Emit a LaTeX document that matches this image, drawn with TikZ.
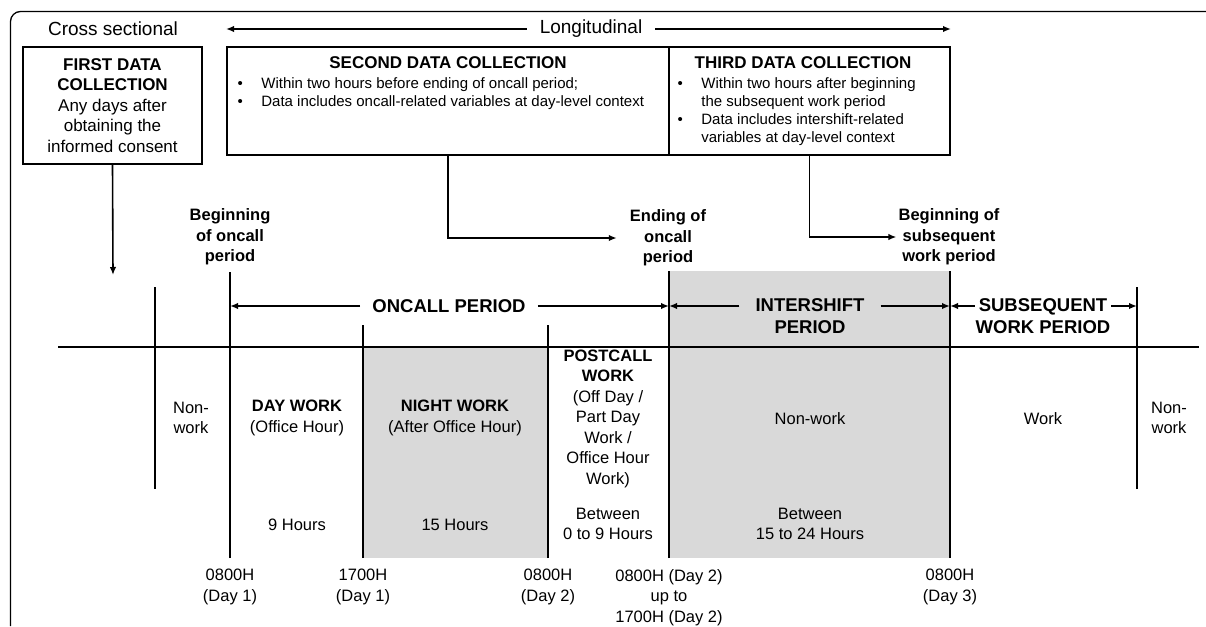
\documentclass[tikz,border=0pt]{standalone}
\usepackage{fontspec}
\setmainfont{Liberation Sans}
\usetikzlibrary{arrows.meta,positioning}
\definecolor{bandgray}{HTML}{D9D9D9}
\tikzset{
  box/.style={draw,line width=2pt,inner sep=0pt,align=center},
  txt/.style={font=\fontsize{16.5}{20.5}\selectfont,align=center,inner sep=2pt},
  lbl/.style={font=\bfseries\fontsize{16.5}{20.5}\selectfont,align=center,inner sep=2pt},
  per/.style={font=\bfseries\fontsize{18.5}{22}\selectfont,align=center,inner sep=2pt},
  blist/.style={font=\fontsize{15}{18}\selectfont,inner sep=0pt,anchor=north west},
  arr/.style={-{Latex[length=8pt,width=6.5pt]},line width=1.6pt},
  tick/.style={line width=1.4pt}
}
\begin{document}
\begin{tikzpicture}[x=1pt,y=-1pt]
  \useasboundingbox (0,0) rectangle (1206,626);
  % 外框
  \draw[line width=1.3pt,rounded corners=10pt] (10.5,626) -- (10.5,11.5) -- (1206,11.5);
  % 三次数据收集
  \node[box,minimum width=179pt,minimum height=117pt,font=\fontsize{17}{20.5}\selectfont] (first) at (112.5,105.5)
    {\textbf{FIRST DATA}\\\textbf{COLLECTION}\\Any days after\\obtaining the\\informed consent};
  \node[box,minimum width=442pt,minimum height=108pt] (second) at (448,101) {};
  \node[box,minimum width=281pt,minimum height=108pt] (third) at (809.5,101) {};
  \node[lbl,font=\bfseries\fontsize{17}{20}\selectfont] (secondttl) at ([yshift=-17pt]second.north) {SECOND DATA COLLECTION};
  \node[lbl,font=\bfseries\fontsize{17}{20}\selectfont] (thirdttl) at ([xshift=-6.5pt,yshift=-17pt]third.north) {THIRD DATA COLLECTION};
  \node[blist] (secondlist) at ([xshift=11.4pt,yshift=-29.5pt]second.north west)
    {\begin{tabular}{@{}c@{\hspace{18.5pt}}l@{}}
      \textbullet & Within two hours before ending of oncall period;\\
      \textbullet & Data includes oncall-related variables at day-level context
    \end{tabular}};
  \node[blist] (thirdlist) at ([xshift=9.4pt,yshift=-29.5pt]third.north west)
    {\begin{tabular}{@{}c@{\hspace{18.5pt}}l@{}}
      \textbullet & Within two hours after beginning\\
                  & the subsequent work period\\
      \textbullet & Data includes intershift-related\\
                  & variables at day-level context
    \end{tabular}};
  % 顶部标题
  \node[txt,font=\fontsize{19}{22}\selectfont] (cross) at (113,29) {Cross sectional};
  \node[txt,font=\fontsize{19}{22}\selectfont,inner xsep=13pt] (longi) at (591,29) {Longitudinal};
  \draw[arr] (longi.west) -- (longi.west -| second.west);
  \draw[arr] (longi.east) -- (longi.east -| third.east);
  % 阴影区
  \fill[bandgray] (363,347) rectangle (548,558);
  \fill[bandgray] (669,271) rectangle (950,558);
  % 时间轴
  \coordinate (bA) at (230,558);
  \coordinate (bB) at (363,558);
  \coordinate (bC) at (548,558);
  \coordinate (bD) at (669,558);
  \coordinate (bE) at (950,558);
  \coordinate (bF) at (1137,489);
  \draw[tick] (58,347) -- (1199,347);
  \draw[tick] (155,287) -- (155,489);
  \draw[tick] (bA) -- (230,272);
  \draw[tick] (bB) -- (363,325);
  \draw[tick] (bC) -- (548,325);
  \draw[tick] (bD) -- (669,271);
  \draw[tick] (bE) -- (950,271);
  \draw[tick] (bF) -- (1137,287);
  % 时间点标签与连线
  \node[lbl] (beginlbl) at (230,237) {Beginning\\of oncall\\period};
  \node[lbl] (endlbl) at (668,238) {Ending of\\oncall\\period};
  \node[lbl] (sublbl) at (949,237) {Beginning of\\subsequent\\work period};
  \coordinate (firstend) at (113,275);
  \draw[arr] (first.south) -- (firstend);
  \draw[arr,shorten >=11pt] (second.south) |- (endlbl.west);
  \draw[arr] (third.south) |- (sublbl.west);
  % 时段箭头
  \node[per,inner xsep=12pt] (oncall) at (449,306) {ONCALL PERIOD};
  \draw[arr] (oncall.west) -- (oncall.west -| bA);
  \draw[arr] (oncall.east) -- (oncall.east -| bD);
  \node[per,anchor=north,inner xsep=16pt] (inter) at (810,296.5) {INTERSHIFT\\PERIOD};
  \draw[arr] (inter.west |- oncall) -- (bD |- oncall);
  \draw[arr] (inter.east |- oncall) -- (bE |- oncall);
  \node[per,anchor=north,inner xsep=0.5pt] (subwork) at (1043,296.5) {SUBSEQUENT\\WORK PERIOD};
  \draw[arr] (subwork.west |- oncall) -- (bE |- oncall);
  \draw[arr] (subwork.east |- oncall) -- (bF |- oncall);
  % 各时段内容
  \node[txt] (nonworkA) at (191,418) {Non-\\work};
  \node[txt] (daywork) at (297,418) {\textbf{DAY WORK}\\(Office Hour)};
  \node[txt] (nightwork) at (455,418) {\textbf{NIGHT WORK}\\(After Office Hour)};
  \node[txt] (postcall) at (608,418.5) {\textbf{POSTCALL}\\\textbf{WORK}\\(Off Day /\\Part Day\\Work /\\Office Hour\\Work)};
  \node[txt] (nonworkB) at (810,419) {Non-work};
  \node[txt] (work) at (1043,419) {Work};
  \node[txt] (nonworkC) at (1169,418) {Non-\\work};
  \node[txt] (dayhrs) at (297,525) {9 Hours};
  \node[txt] (nighthrs) at (455,525) {15 Hours};
  \node[txt] (posthrs) at (608,524) {Between\\0 to 9 Hours};
  \node[txt] (interhrs) at (810,524) {Between\\15 to 24 Hours};
  % 时刻
  \node[txt,below=9pt of bA] (timeA) {0800H\\(Day 1)};
  \node[txt,below=9pt of bB] (timeB) {1700H\\(Day 1)};
  \node[txt,below=9pt of bC] (timeC) {0800H\\(Day 2)};
  \node[txt,below=9pt of bD] (timeD) {0800H (Day 2)\\up to\\1700H (Day 2)};
  \node[txt,below=9pt of bE] (timeE) {0800H\\(Day 3)};
\end{tikzpicture}
\end{document}
